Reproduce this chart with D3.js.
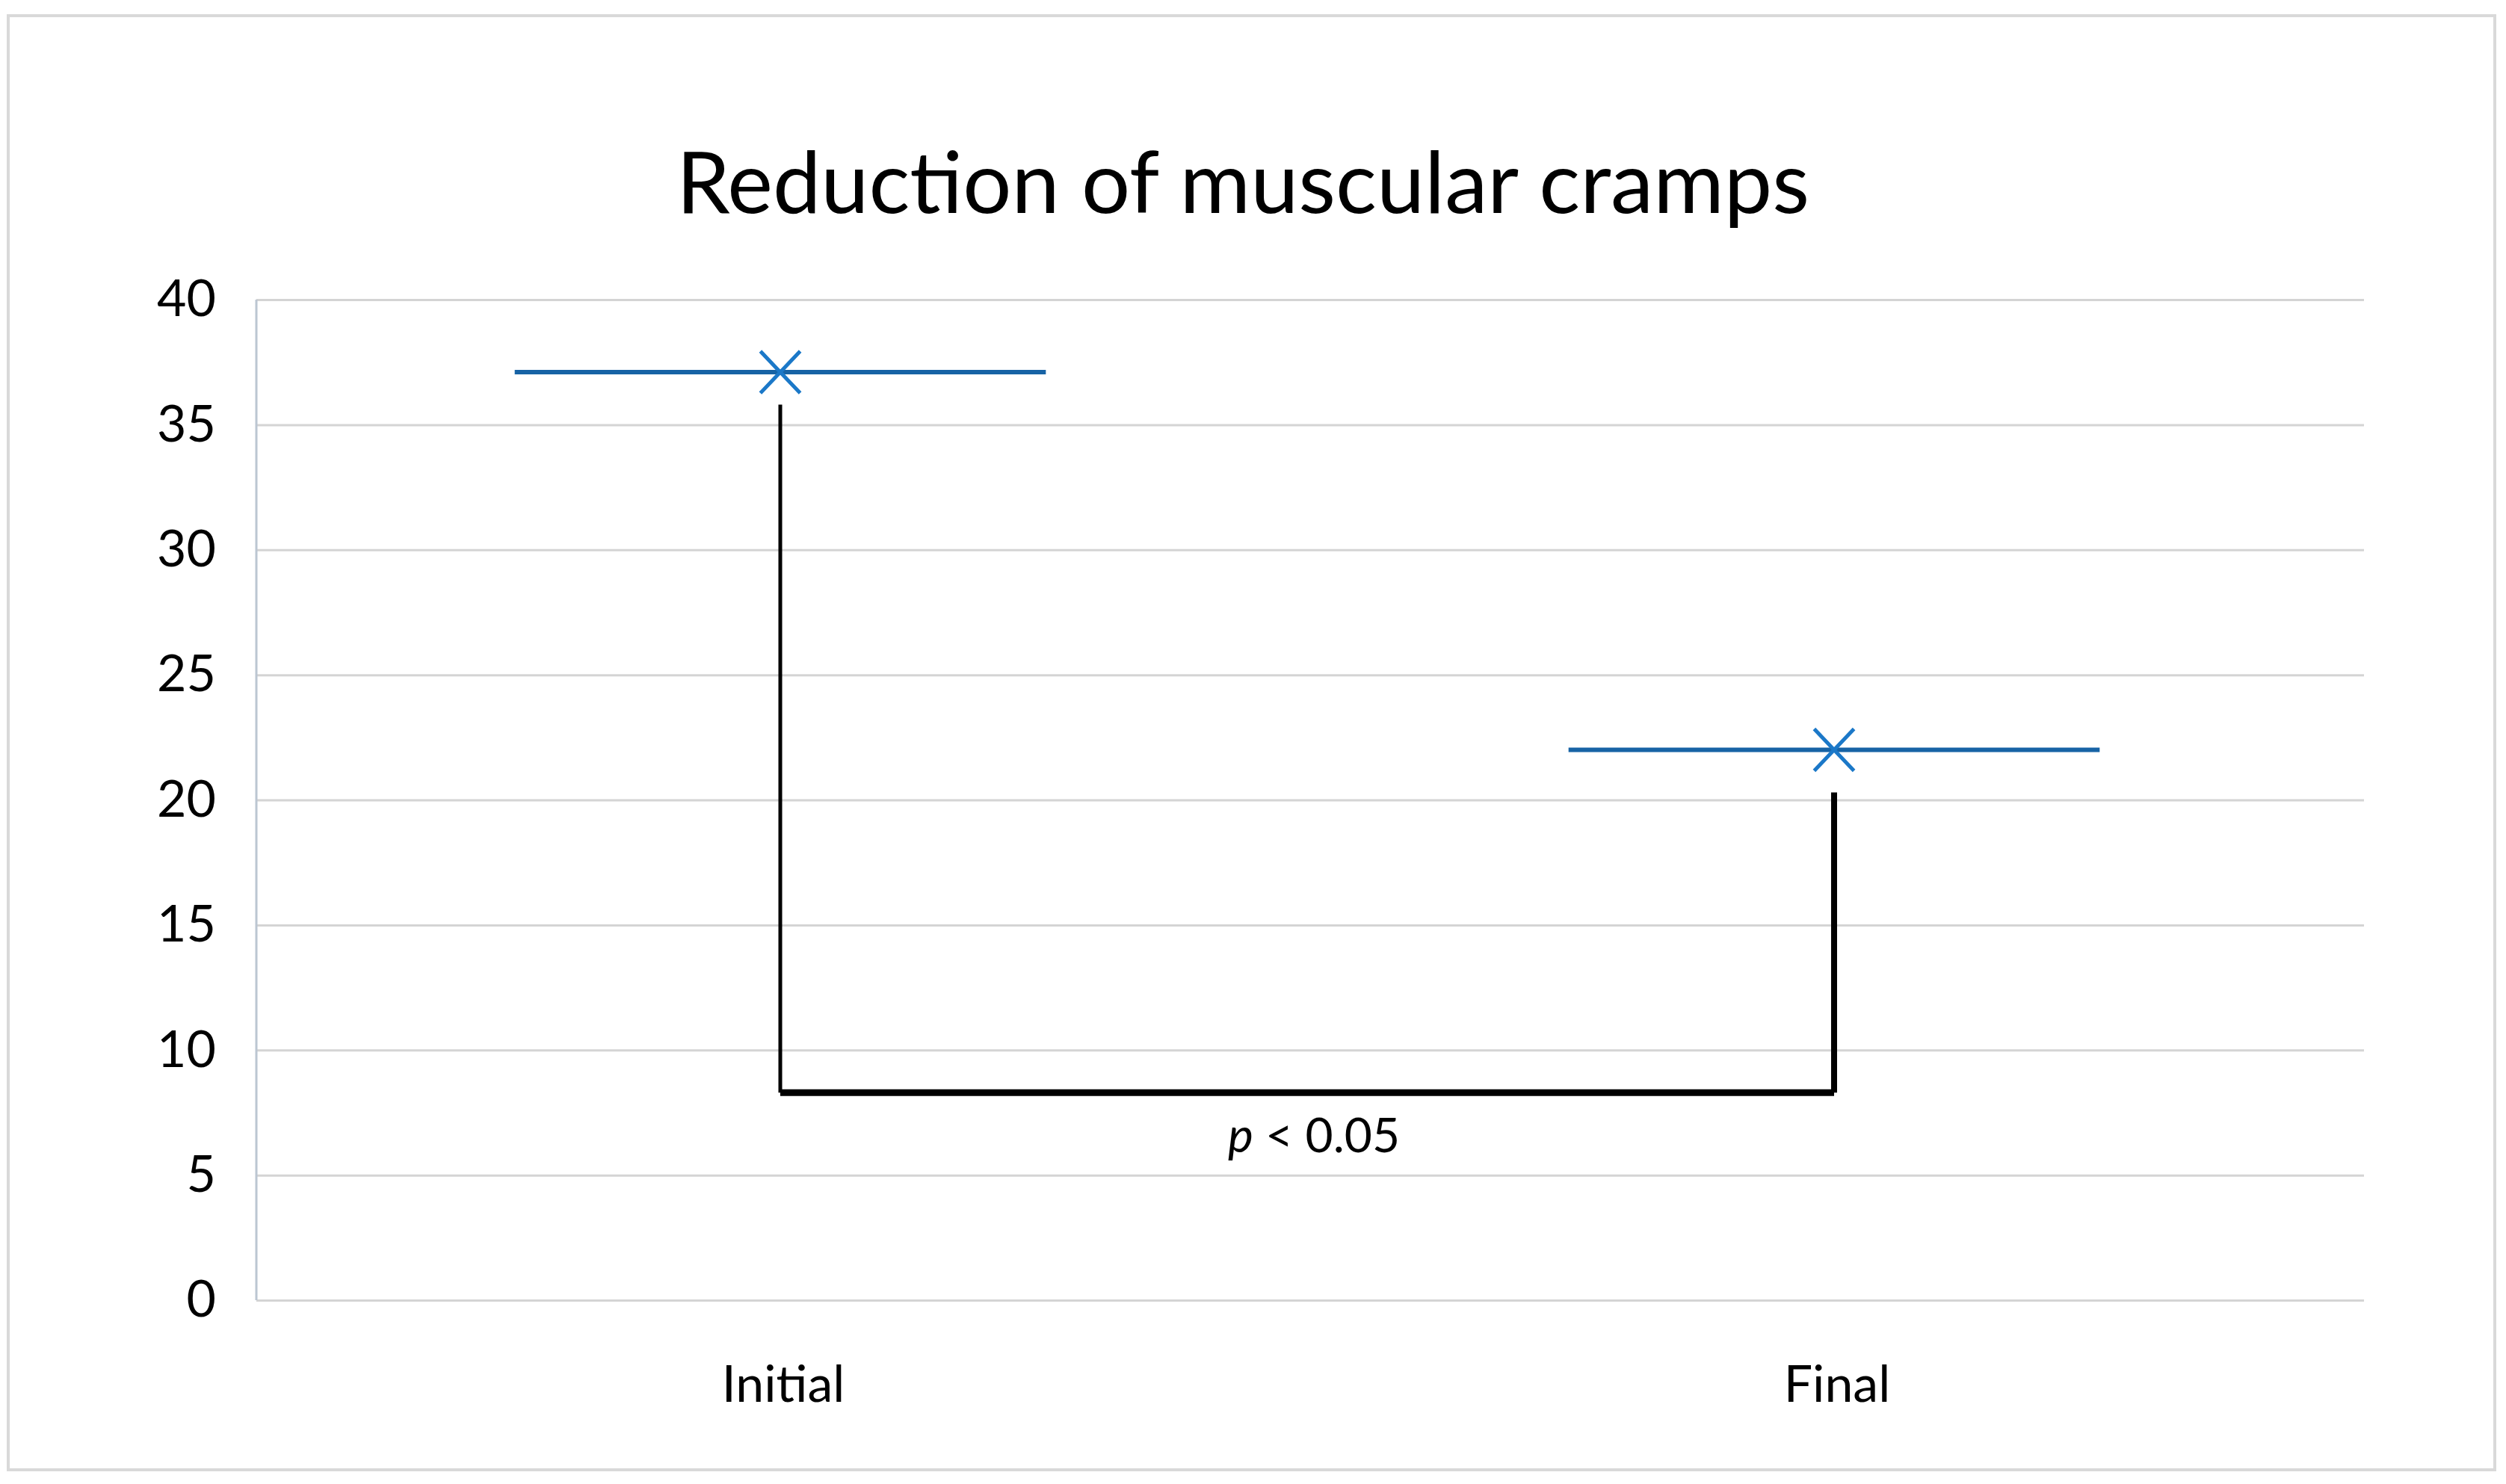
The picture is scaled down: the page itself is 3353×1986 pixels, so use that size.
<!DOCTYPE html>
<meta charset="utf-8">
<title>Reduction of muscular cramps</title>
<script src="https://d3js.org/d3.v7.min.js"></script>
<style>
  body { margin: 0; background: #fff; }
  text { font-family: Lato, "Open Sans", sans-serif; fill: #000; }
</style>
<body>
<div id="my_dataviz"></div>
<script>

// data
var categories = ["Initial", "Final"];
var meanValues = [37.1, 22];          // blue line + x marker
var stemTops = [35.8, 20.3];          // top of the black vertical lines
var bracketLevel = 8.3;               // horizontal black bracket
var yTicks = [0, 5, 10, 15, 20, 25, 30, 35, 40];
var titleText = "Reduction of muscular cramps";
var pText = ["p", " < 0.05"];

// dimensions
var W = 3353, H = 1986;
var margin = {top: 401, right: 190, bottom: 246, left: 343},
    width = W - margin.left - margin.right,
    height = H - margin.top - margin.bottom;

var root = d3.select("#my_dataviz")
  .append("svg")
    .attr("width", W)
    .attr("height", H);

// outer frame
root.append("rect")
  .attr("x", 11).attr("y", 21)
  .attr("width", 3327).attr("height", 1946)
  .attr("fill", "#fff")
  .attr("stroke", "#d9d9d9")
  .attr("stroke-width", 4);

// title
root.append("text")
  .attr("x", 1663)
  .attr("y", 285)
  .attr("text-anchor", "middle")
  .style("font-size", "115px")
  .text(titleText);

var svg = root.append("g")
  .attr("transform", "translate(" + margin.left + "," + margin.top + ")");

// scales
var x = d3.scaleBand()
  .domain(categories)
  .range([0, width])
  .padding(0);

var y = d3.scaleLinear()
  .domain([0, 40])
  .range([height, 0]);

// y axis + gridlines
var yAxis = svg.append("g")
  .call(d3.axisLeft(y).tickValues(yTicks).tickSize(-width).tickPadding(54));
yAxis.select(".domain").remove();
yAxis.selectAll(".tick line")
  .attr("stroke", "#d4d4d4")
  .attr("stroke-width", 3);
yAxis.selectAll(".tick text")
  .style("font-size", "68px")
  .attr("fill", "#000");

// left axis line
svg.append("line")
  .attr("x1", 0).attr("x2", 0)
  .attr("y1", y(40)).attr("y2", y(0))
  .attr("stroke", "#bcc6d2")
  .attr("stroke-width", 3);

// x axis labels
var xAxis = svg.append("g")
  .attr("transform", "translate(0," + height + ")")
  .call(d3.axisBottom(x).tickSize(0).tickPadding(88));
xAxis.select(".domain").remove();
xAxis.selectAll(".tick text")
  .style("font-size", "68px")
  .attr("fill", "#000");

var cx = function(d) { return x(d) + x.bandwidth() / 2 - 4; };

// black stems
svg.selectAll(".stem")
  .data(categories)
  .enter().append("line")
    .attr("class", "stem")
    .attr("x1", cx).attr("x2", cx)
    .attr("y1", function(d, i) { return y(stemTops[i]); })
    .attr("y2", y(bracketLevel))
    .attr("stroke", "#000")
    .attr("stroke-width", function(d, i) { return i ? 8 : 5; });

// bracket
svg.append("line")
  .attr("x1", cx(categories[0]))
  .attr("x2", cx(categories[1]))
  .attr("y1", y(bracketLevel))
  .attr("y2", y(bracketLevel))
  .attr("stroke", "#000")
  .attr("stroke-width", 9);

// p label
var pt = svg.append("text")
  .attr("x", (cx(categories[0]) + cx(categories[1])) / 2 + 9)
  .attr("y", y(bracketLevel) + 80)
  .attr("text-anchor", "middle")
  .style("font-size", "64px");
pt.append("tspan").style("font-style", "italic").text(pText[0]);
pt.append("tspan").text(pText[1]);

// blue mean lines
var half = x.bandwidth() * 0.252;
svg.selectAll(".mean")
  .data(categories)
  .enter().append("line")
    .attr("class", "mean")
    .attr("x1", function(d) { return cx(d) - half; })
    .attr("x2", function(d) { return cx(d) + half; })
    .attr("y1", function(d, i) { return y(meanValues[i]); })
    .attr("y2", function(d, i) { return y(meanValues[i]); })
    .attr("stroke", "#1763a5")
    .attr("stroke-width", 6);

// x markers
var mk = 28;
svg.selectAll(".marker")
  .data(categories)
  .enter().append("path")
    .attr("class", "marker")
    .attr("transform", function(d, i) { return "translate(" + cx(d) + "," + y(meanValues[i]) + ")"; })
    .attr("d", "M" + (-mk * 0.95) + "," + (-mk) + "L" + (mk * 0.95) + "," + mk +
               "M" + (-mk * 0.95) + "," + mk + "L" + (mk * 0.95) + "," + (-mk))
    .attr("fill", "none")
    .attr("stroke", "#1b78c8")
    .attr("stroke-width", 5);

</script>
</body>
</html>
